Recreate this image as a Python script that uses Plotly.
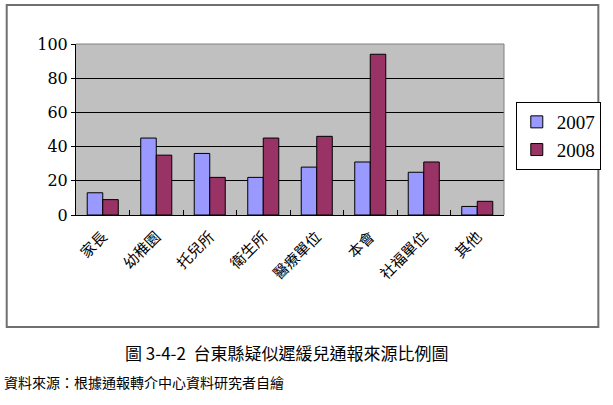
import plotly.graph_objects as go

categories = ["家長", "幼稚園", "托兒所", "衛生所", "醫療單位", "本會", "社福單位", "其他"]
series_names = ["2007", "2008"]
values_2007 = [13, 45, 36, 22, 28, 31, 25, 5]
values_2008 = [9, 35, 22, 45, 46, 94, 31, 8]
y_ticks = [0, 20, 40, 60, 80, 100]
title_text = "圖 3-4-2  台東縣疑似遲緩兒通報來源比例圖"
source_text = "資料來源：根據通報轉介中心資料研究者自繪"

W, H = 613, 405
L, R, T, B = 75.5, 511, 44, 215  # plot area pixel edges
pw, ph = R - L, B - T

def px(x):
    return (x - L) / pw

def py(y):
    return (B - y) / ph

serif = "Times New Roman"
serif2 = "DejaVu Serif"
cjk = "Noto Sans CJK TC"

fig = go.Figure()
fig.add_trace(go.Bar(x=categories, y=values_2007, name=series_names[0],
                     marker=dict(color="#9999FF", line=dict(color="black", width=1))))
fig.add_trace(go.Bar(x=categories, y=values_2008, name=series_names[1],
                     marker=dict(color="#993366", line=dict(color="black", width=1))))

fig.update_layout(
    width=W, height=H,
    margin=dict(l=L, r=W - R, t=T, b=H - B, pad=0),
    paper_bgcolor="white",
    plot_bgcolor="#C0C0C0",
    barmode="group",
    bargap=0.42,
    bargroupgap=0,
    showlegend=True,
    legend=dict(x=px(523), y=py(102), xanchor="left", yanchor="top",
                bordercolor="black", borderwidth=1, bgcolor="white",
                font=dict(family=serif, size=19, color="black"),
                tracegroupgap=4, itemwidth=30),
    xaxis=dict(type="category", showline=True, linecolor="black", linewidth=1,
               ticks="inside", ticklen=5, tickcolor="black", tickson="boundaries",
               tickangle=-45, tickfont=dict(family=cjk, size=15, color="black"),
               ticklabelstandoff=6, showgrid=False),
    yaxis=dict(range=[0, 100], tickvals=y_ticks, showline=True, linecolor="black",
               linewidth=1, ticks="outside", ticklen=4, tickcolor="black",
               showgrid=True, gridcolor="black", gridwidth=1,
               tickfont=dict(family=serif2, size=16, color="black"), zeroline=False),
    shapes=[
        dict(type="rect", xref="paper", yref="paper", x0=px(5), x1=px(607),
             y0=py(5), y1=py(327), line=dict(color="#707070", width=2),
             fillcolor="rgba(0,0,0,0)", layer="below"),
        dict(type="line", xref="paper", yref="paper", x0=0, x1=1, y0=1, y1=1,
             line=dict(color="#808080", width=1)),
        dict(type="line", xref="paper", yref="paper", x0=1, x1=1, y0=0, y1=1,
             line=dict(color="#808080", width=1)),
    ],
    annotations=[
        dict(text=title_text, xref="paper", yref="paper", x=px(290), y=py(352),
             xanchor="center", yanchor="middle", showarrow=False,
             font=dict(family=cjk, size=17, color="black")),
        dict(text=source_text, xref="paper", yref="paper", x=px(0), y=py(382),
             xanchor="left", yanchor="middle", showarrow=False,
             font=dict(family=cjk, size=14, color="black")),
    ],
)

fig.write_html("out.html")
